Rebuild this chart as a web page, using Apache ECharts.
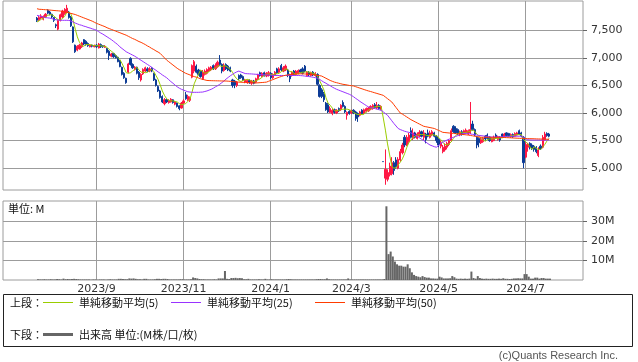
<!DOCTYPE html>
<html><head><meta charset="utf-8">
<script src="https://cdn.jsdelivr.net/npm/echarts@6/dist/echarts.min.js"></script>
<style>html,body{margin:0;padding:0;background:#fff}#c{width:638px;height:362px}</style>
</head><body><div id="c"></div>
<script>
// Trading days (Tokyo) shown on the category axis
const tradingDays = [
  ["2023/06",[29,30]],
  ["2023/07",[3,4,5,6,7,10,11,12,13,14,18,19,20,21,24,25,26,27,28,31]],
  ["2023/08",[1,2,3,4,7,8,9,10,14,15,16,17,18,21,22,23,24,25,28,29,30,31]],
  ["2023/09",[1,4,5,6,7,8,11,12,13,14,15,19,20,21,22,25,26,27,28,29]],
  ["2023/10",[2,3,4,5,6,10,11,12,13,16,17,18,19,20,23,24,25,26,27,30,31]],
  ["2023/11",[1,2,6,7,8,9,10,13,14,15,16,17,20,21,22,24,27,28,29,30]],
  ["2023/12",[1,4,5,6,7,8,11,12,13,14,15,18,19,20,21,22,25,26,27,28,29]],
  ["2024/01",[4,5,9,10,11,12,15,16,17,18,19,22,23,24,25,26,29,30,31]],
  ["2024/02",[1,2,5,6,7,8,9,13,14,15,16,19,20,21,22,26,27,28,29]],
  ["2024/03",[1,4,5,6,7,8,11,12,13,14,15,18,19,21,22,25,26,27,28,29]],
  ["2024/04",[1,2,3,4,5,8,9,10,11,12,15,16,17,18,19,22,23,24,25,26,30]],
  ["2024/05",[1,2,7,8,9,10,13,14,15,16,17,20,21,22,23,24,27,28,29,30,31]],
  ["2024/06",[3,4,5,6,7,10,11,12,13,14,17,18,19,20,21,24,25,26,27,28]],
  ["2024/07",[1,2,3,4,5,8,9,10,11,12,16,17,18,19,22,23,24,25,26,29,30,31]],
  ["2024/08",[1,2,5,6,7,8]]
];
const firstDataDate = "2023/07/24";

// Daily candles: [open, close, low, high]
const candles = [
[7720,7680,7650,7740],[7690,7730,7670,7760],[7720,7760,7700,7790],[7700,7750,7680,7770],[7740,7790,7720,7810],
[7860,7810,7790,7880],[7830,7790,7770,7850],[7790,7740,7720,7800],[7730,7680,7650,7740],[7600,7580,7540,7620],
[7520,7680,7500,7700],[7680,7780,7660,7800],[7740,7850,7720,7870],[7800,7880,7780,7900],[7830,7900,7810,7960],
[7830,7730,7710,7850],[7740,7580,7560,7760],[7560,7290,7270,7570],[7230,7110,7090,7240],[7140,7210,7120,7230],
[7160,7230,7150,7250],[7200,7270,7180,7290],[7330,7250,7230,7340],[7300,7240,7220,7320],[7260,7220,7200,7280],
[7200,7230,7190,7250],[7230,7210,7190,7240],[7200,7220,7190,7240],[7230,7200,7180,7250],[7180,7250,7170,7270],
[7240,7200,7180,7260],[7220,7200,7180,7230],[7190,7210,7180,7230],[7170,7100,7080,7180],[7120,7040,6960,7140],
[7030,7070,7010,7090],[7080,7020,7000,7090],[7040,7000,6990,7060],[7010,6930,6920,7020],[6950,6840,6830,6960],
[6830,6700,6680,6840],[6720,6640,6620,6740],[6630,6550,6530,6640],[6740,6890,6720,6910],[6990,6880,6860,7010],
[6880,6820,6800,6900],[6790,6830,6770,6850],[6830,6720,6700,6840],[6740,6640,6600,6760],[6600,6700,6570,6720],
[6710,6790,6690,6810],[6760,6820,6740,6840],[6800,6760,6740,6830],[6760,6800,6740,6830],[6810,6760,6740,6830],
[6720,6600,6580,6730],[6600,6500,6480,6620],[6480,6400,6380,6500],[6400,6280,6260,6420],[6300,6200,6180,6320],
[6170,6240,6140,6270],[6240,6200,6180,6260],[6190,6230,6170,6250],[6200,6250,6190,6270],[6240,6190,6170,6250],
[6160,6200,6140,6220],[6180,6120,6100,6190],[6130,6080,6050,6140],[6090,6180,6080,6200],[6180,6220,6160,6250],
[6330,6260,6240,6380],[6240,6300,6220,6330],[6230,6280,6200,6300],[6650,6860,6630,6880],[6760,6930,6720,6960],
[6850,6740,6720,6880],[6780,6700,6680,6800],[6760,6660,6640,6780],[6620,6740,6600,6780],[6700,6760,6680,6790],
[6720,6790,6700,6810],[6760,6820,6740,6840],[6780,6830,6760,6850],[6860,6800,6780,6880],[6800,6860,6780,6900],
[6840,6920,6820,6950],[6960,6880,6850,7050],[6880,6760,6720,6900],[6770,6870,6750,6900],[6880,6800,6780,6900],
[6850,6780,6760,6870],[6820,6760,6740,6840],[6600,6500,6460,6620],[6580,6510,6450,6600],[6500,6560,6470,6580],
[6680,6620,6600,6700],[6690,6640,6620,6710],[6660,6600,6580,6680],[6560,6600,6540,6620],[6550,6590,6530,6610],
[6590,6550,6530,6610],[6540,6580,6510,6600],[6580,6540,6520,6600],[6560,6620,6540,6640],[6620,6690,6600,6710],
[6730,6680,6660,6750],[6660,6720,6650,6740],[6730,6680,6660,6750],[6670,6720,6650,6740],[6680,6730,6660,6760],
[6720,6640,6610,6740],[6640,6700,6620,6720],[6690,6740,6680,6760],[6800,6730,6710,6820],[6740,6800,6720,6830],
[6860,6780,6760,6890],[6760,6820,6740,6850],[6780,6850,6760,6880],[6780,6700,6650,6800],[6700,6620,6560,6710],
[6680,6740,6660,6760],[6760,6700,6680,6780],[6700,6760,6680,6780],[6720,6770,6700,6790],[6780,6740,6720,6800],
[6800,6720,6700,6830],[6850,6760,6740,6870],[6680,6740,6660,6760],[6740,6690,6670,6760],[6680,6730,6660,6750],
[6740,6690,6670,6760],[6680,6720,6660,6740],[6700,6520,6500,6720],[6500,6300,6280,6520],[6420,6300,6270,6450],
[6350,6240,6200,6380],[6180,6060,6040,6200],[6150,6020,6000,6180],[6010,6080,6000,6120],[5990,6050,5960,6080],
[6060,6010,5990,6080],[6000,6050,5980,6070],[6080,6040,6020,6100],[6060,6140,6040,6160],[6190,6120,6100,6230],
[6120,6020,6000,6140],[5960,6010,5880,6030],[6030,5990,5970,6050],[6000,6040,5980,6060],[6050,6000,5980,6070],
[6020,5900,5860,6040],[5990,5930,5840,6010],[5960,6020,5940,6040],[6050,5990,5970,6070],[6000,6060,5980,6080],
[6030,6080,6010,6100],[6040,6090,6020,6110],[6070,6120,6050,6140],[6080,6140,6060,6160],[6150,6100,6080,6180],
[6090,6140,6070,6200],[6140,6080,6060,6160],[6070,6120,6050,6140],[5120,5120,5120,5120],[4820,4980,4700,5340],
[4800,4920,4760,4980],[4880,5040,4850,5100],[4900,5100,4870,5200],[5100,4960,4880,5130],[5150,5020,4990,5200],
[5000,5160,4980,5200],[5150,5300,5120,5350],[5280,5420,5250,5460],[5560,5420,5380,5600],[5420,5560,5400,5600],
[5480,5600,5460,5640],[5680,5560,5540,5740],[5540,5640,5510,5720],[5640,5560,5540,5660],[5540,5620,5520,5650],
[5580,5650,5560,5690],[5660,5580,5560,5680],[5560,5640,5510,5690],[5620,5520,5450,5640],[5640,5580,5560,5700],
[5560,5640,5540,5680],[5600,5660,5580,5690],[5640,5580,5560,5660],[5580,5500,5460,5600],[5520,5420,5380,5540],
[5400,5460,5360,5500],[5300,5380,5270,5420],[5330,5400,5300,5450],[5380,5450,5340,5480],[5430,5500,5400,5530],
[5500,5680,5480,5720],[5760,5660,5640,5780],[5720,5640,5620,5760],[5700,5620,5600,5720],[5600,5660,5580,5680],
[5660,5610,5590,5690],[5620,5680,5600,5700],[5640,5690,5620,5720],[5620,5680,5600,5700],[5640,5700,5620,6200],
[5800,5700,5680,5860],[5700,5600,5580,5720],[5560,5420,5360,5580],[5540,5460,5380,5560],[5460,5520,5440,5550],
[5480,5540,5460,5560],[5580,5530,5500,5600],[5600,5540,5520,5630],[5560,5500,5480,5580],[5480,5540,5470,5560],
[5500,5560,5490,5590],[5600,5550,5530,5630],[5520,5570,5500,5590],[5560,5510,5480,5580],[5620,5570,5550,5630],
[5570,5620,5560,5640],[5640,5590,5570,5650],[5630,5580,5560,5640],[5570,5610,5550,5630],[5610,5570,5550,5630],
[5580,5630,5570,5650],[5600,5640,5590,5660],[5680,5620,5600,5700],[5640,5590,5560,5660],[5560,5100,5000,5580],
[5200,5430,5180,5470],[5380,5440,5300,5460],[5450,5370,5340,5470],[5420,5360,5330,5450],[5400,5340,5300,5420],
[5380,5300,5270,5400],[5230,5330,5200,5380],[5400,5350,5330,5430],[5380,5560,5360,5600],[5520,5620,5500,5660],
[5630,5590,5570,5650],[5620,5580,5560,5640]
];

// Volume, millions
const volumeM = [
0.4,0.3,0.3,0.4,0.3,0.3,0.4,0.3,0.3,0.5,
0.4,0.3,0.7,0.4,0.5,0.4,0.5,0.6,0.5,0.4,
0.3,0.3,0.3,0.3,0.3,0.2,0.3,0.3,0.2,0.3,
0.3,0.3,0.2,0.3,0.4,0.3,0.3,0.3,0.6,0.6,
0.5,0.4,0.4,0.8,0.7,0.8,0.6,0.4,0.4,0.3,
0.6,0.6,0.3,0.3,0.3,0.4,0.6,0.6,0.5,0.6,
0.6,0.5,0.3,0.3,0.3,0.3,0.3,0.4,0.4,0.3,
0.3,0.3,0.4,1.3,1.0,0.8,0.5,0.4,0.4,0.3,
0.3,0.3,0.3,0.4,0.3,0.8,0.8,0.8,4.6,0.6,
0.5,1.0,1.0,1.1,0.9,1.0,0.9,0.4,0.4,0.6,
0.3,0.3,0.3,0.3,0.4,0.3,0.3,0.6,0.3,0.3,
0.4,0.3,0.3,0.3,0.3,0.3,0.3,0.4,0.5,0.4,
0.3,0.3,0.3,0.3,0.3,0.3,0.3,0.3,0.3,0.3,
0.3,0.4,0.5,0.5,0.4,0.4,0.8,0.4,0.3,0.3,
0.3,0.3,0.3,0.3,0.3,0.3,0.8,0.3,0.3,0.3,
0.3,0.3,0.3,0.3,0.3,0.3,0.3,0.3,0.3,0.3,
0.3,0.3,0.3,0.5,37.6,13.2,14.5,12.0,9.4,8.0,
7.3,7.3,6.8,6.8,8.0,6.0,3.9,2.6,2.0,1.7,
1.4,2.0,1.5,1.2,1.2,0.8,0.8,0.7,0.7,1.7,
1.3,0.8,0.8,0.8,0.9,2.0,1.4,0.7,0.6,0.7,
0.6,0.7,0.6,0.7,4.3,1.0,0.7,2.0,1.0,0.7,
0.6,0.7,0.6,0.6,0.7,0.6,0.6,0.7,0.6,0.9,
0.6,0.6,0.5,0.6,0.8,0.8,0.9,0.8,0.8,3.0,
3.0,1.7,0.7,0.7,1.2,1.2,0.7,1.0,1.0,0.7,
0.7,0.7
];

// Moving averages
const ma5 = [
7650,7670,7700,7720,7740,7770,7780,7780,7760,7720,7690,7690,7710,7750,7820,7830,7790,7680,7520,7380,
7280,7220,7210,7240,7240,7240,7230,7220,7220,7220,7220,7210,7210,7190,7150,7120,7090,7050,7010,6970,
6900,6820,6730,6720,6730,6760,6790,6830,6780,6740,6740,6730,6740,6770,6790,6750,6680,6610,6510,6400,
6320,6260,6230,6220,6220,6210,6200,6170,6150,6160,6170,6210,6250,6380,6530,6620,6700,6780,6750,6720,
6730,6750,6790,6800,6820,6850,6860,6840,6860,6850,6820,6790,6740,6670,6620,6590,6570,6590,6600,6610,
6600,6580,6570,6580,6600,6620,6650,6680,6700,6710,6700,6690,6710,6710,6720,6750,6770,6800,6790,6750,
6750,6720,6700,6720,6730,
6740,6740,6750,6740,6730,6720,6710,6670,6590,6510,6420,6280,6180,6140,6090,6040,6040,6050,6060,6070,
6070,6070,6060,6040,6010,5990,5970,5980,5970,5980,6020,6050,6070,6100,6110,6120,6120,6120,5910,5690,
5440,5240,5030,5000,5010,5060,5110,5170,5260,5370,5460,5510,5560,5580,5600,5610,5610,5610,5600,5590,
5590,5610,5600,5590,5560,5520,5470,5430,5420,5440,5480,5540,5590,5620,5650,5640,5640,5650,5660,5670,
5690,5670,5620,5580,5540,5510,5490,5520,5530,5530,5530,5540,5540,5550,5550,5560,5570,5570,5590,5590,
5600,5610,5610,5610,5520,5480,5440,5390,5340,5390,5360,5340,5340,5380,5430,5490,5540
];
const ma25 = [
7770,7760,7750,7740,7730,7725,7720,7710,7700,7690,7685,7680,7680,7680,7680,7680,7665,7650,7630,7615,
7600,7590,7575,7565,7550,7540,7525,7515,7500,7475,7450,7430,7405,7380,7355,7330,7300,7270,7240,7200,
7170,7140,7110,7090,7070,7050,7030,7005,6980,6955,6930,6905,6880,6855,6830,6800,6775,6745,6720,6690,
6665,6640,6605,6570,6540,6505,6475,6450,6430,6415,6400,6385,6380,6375,6375,6375,6375,6378,6380,6390,
6400,6415,6430,6450,6475,6495,6520,6550,6580,6615,6645,6675,6700,6725,6745,6760,6745,6730,6715,6712,
6710,6708,6705,6702,6700,6698,6695,6693,6690,6688,6685,6683,6680,6680,6680,6680,6680,6680,6680,6680,
6680,6680,6680,6680,6678,
6675,6670,6665,6660,6655,6648,6640,6630,6610,6585,6560,6540,6515,6495,6470,6450,6430,6415,6400,6385,
6370,6355,6340,6320,6295,6265,6240,6210,6185,6160,6135,6110,6100,6090,6080,6070,6060,6050,6020,5990,
5960,5910,5860,5810,5765,5720,5700,5685,5670,5660,5650,5640,5620,5600,5575,5550,5525,5500,5475,5445,
5420,5405,5390,5380,5410,5450,5470,5490,5510,5525,5545,5560,5575,5590,5605,5620,5630,5630,5625,5620,
5615,5608,5600,5595,5590,5585,5580,5575,5570,5565,5565,5565,5565,5568,5570,5572,5575,5577,5578,5580,
5580,5580,5580,5580,5560,5535,5515,5512,5510,5510,5510,5510,5510,5510,5510,5510,5510
];
const ma50 = [
7890,7880,7878,7875,7872,7870,7866,7862,7858,7855,7852,7848,7840,7832,7825,7815,7805,7795,7785,7770,
7755,7740,7725,7710,7695,7680,7665,7645,7625,7610,7595,7580,7565,7545,7530,7515,7500,7485,7470,7455,
7440,7425,7410,7390,7370,7350,7335,7315,7295,7280,7260,7240,7215,7195,7170,7150,7125,7105,7080,7040,
7000,6960,6930,6900,6870,6840,6810,6785,6765,6740,6720,6705,6690,6675,6660,6650,6635,6620,6610,6600,
6590,6588,6586,6585,6584,6583,6582,6581,6580,6580,6577,6574,6570,6566,6563,6560,6558,6556,6554,6552,
6550,6548,6546,6545,6547,6550,6553,6556,6560,6575,6590,6605,6620,6635,6650,6662,6675,6685,6690,6695,
6700,6704,6707,6710,6710,
6710,6708,6705,6702,6700,6695,6690,6683,6677,6670,6650,6630,6610,6590,6575,6560,6550,6540,6530,6520,
6515,6508,6500,6495,6490,6477,6464,6451,6438,6425,6412,6400,6390,6378,6366,6355,6343,6332,6320,6290,
6260,6230,6200,6150,6100,6050,6000,5980,5955,5930,5905,5880,5860,5840,5820,5800,5780,5760,5752,5744,
5736,5728,5720,5703,5686,5668,5650,5646,5642,5638,5634,5630,5626,5622,5618,5613,5609,5604,5600,5593,
5587,5580,5573,5567,5560,5560,5560,5560,5560,5560,5560,5560,5560,5560,5558,5556,5554,5552,5550,5548,
5546,5544,5542,5540,5538,5537,5536,5535,5534,5533,5531,5530,5529,5527,5526,5525,5524
];

const priceTicks = [5000,5500,6000,6500,7000,7500];
const volumeTicks = [10,20,30];
const monthTickDates = ["2023/09/01","2023/11/01","2024/01/04","2024/03/01","2024/05/01","2024/07/01"];
const monthTickLabels = ["2023/9","2023/11","2024/1","2024/3","2024/5","2024/7"];

// ---- build ----
const dates = [];
tradingDays.forEach(([ym, days]) => days.forEach(d => dates.push(ym + "/" + String(d).padStart(2, "0"))));
const start = dates.indexOf(firstDataDate);
function pad(arr, empty) {
  const out = dates.map(() => empty);
  arr.forEach((v, k) => { out[start + k] = v; });
  return out;
}
const tickIdx = new Set(monthTickDates.map(d => dates.indexOf(d)));
const isTick = (i) => tickIdx.has(i);

const NUM = '"DejaVu Sans", Verdana, sans-serif';
const CJK = '"Noto Sans CJK JP", sans-serif';
const GRID = '#9c9c9c';

const names = ['単純移動平均(5)', '単純移動平均(25)', '単純移動平均(50)', '出来高 単位:(M株/口/枚)'];
function legendAt(name, left, top, h) {
  return { data: [name], left: left, top: top, orient: 'horizontal', padding: 0, itemGap: 0,
    itemWidth: 30, itemHeight: h, icon: 'rect', selectedMode: false,
    textStyle: { fontFamily: CJK, fontSize: 11, color: '#111', padding: [0, 0, 0, 1] } };
}

const chart = echarts.init(document.getElementById('c'));
chart.setOption({
  animation: false,
  backgroundColor: '#fff',
  grid: [
    { left: 3, width: 580, top: 1, height: 189, show: true, borderColor: GRID, borderWidth: 1 },
    { left: 3, width: 580, top: 201, height: 79, show: true, borderColor: GRID, borderWidth: 1 }
  ],
  xAxis: [
    { type: 'category', gridIndex: 0, data: dates, boundaryGap: false,
      axisLine: { show: false }, axisTick: { show: false },
      axisLabel: { show: false, interval: isTick },
      splitLine: { show: true, interval: isTick, lineStyle: { color: GRID, width: 1 } } },
    { type: 'category', gridIndex: 1, data: dates, boundaryGap: false,
      axisLine: { show: false }, axisTick: { show: false },
      axisLabel: { show: true, interval: isTick, margin: 4, fontFamily: NUM, fontSize: 11, color: '#333',
        formatter: (v) => monthTickLabels[monthTickDates.indexOf(v)] || '' },
      splitLine: { show: true, interval: isTick, lineStyle: { color: GRID, width: 1 } } }
  ],
  yAxis: [
    { type: 'value', gridIndex: 0, position: 'right', min: 4605, max: 8030,
      axisLine: { show: false },
      axisTick: { show: true, length: 4, customValues: priceTicks, lineStyle: { color: '#666' } },
      axisLabel: { customValues: priceTicks, margin: 8, fontFamily: NUM, fontSize: 11, color: '#333',
        formatter: (v) => Number(v).toLocaleString('en-US') },
      splitLine: { show: true, lineStyle: { color: GRID, width: 1 } } },
    { type: 'value', gridIndex: 1, position: 'right', min: 0, max: 40.3,
      axisLine: { show: false },
      axisTick: { show: true, length: 4, customValues: volumeTicks, lineStyle: { color: '#666' } },
      axisLabel: { customValues: volumeTicks, margin: 8, fontFamily: NUM, fontSize: 11, color: '#333',
        formatter: (v) => v + 'M' },
      splitLine: { show: true, lineStyle: { color: GRID, width: 1 } } }
  ],
  legend: [
    legendAt(names[0], 43, 297, 1),
    legendAt(names[1], 171, 297, 1),
    legendAt(names[2], 315, 297, 1),
    legendAt(names[3], 43, 329, 3)
  ],
  graphic: [
    { type: 'rect', shape: { x: 3.5, y: 294.5, width: 629, height: 52 }, style: { fill: 'none', stroke: '#222', lineWidth: 1 }, silent: true },
    { type: 'text', left: 10, top: 297, style: { text: '上段：', font: '11px "Noto Sans CJK JP"', fill: '#111' } },
    { type: 'text', left: 10, top: 329, style: { text: '下段：', font: '11px "Noto Sans CJK JP"', fill: '#111' } },
    { type: 'text', left: 8, top: 203, style: { text: '単位: M', font: '11px "Noto Sans CJK JP"', fill: '#111' } },
    { type: 'text', right: 20, top: 350, style: { text: '(c)Quants Research Inc.', font: '11px "Liberation Sans"', fill: '#555' } }
  ],
  series: [
    { type: 'candlestick', name: 'price', xAxisIndex: 0, yAxisIndex: 0, barWidth: 1.7,
      data: pad(candles, ['-', '-', '-', '-']),
      itemStyle: { color: '#ff1744', color0: '#0d3c96', borderColor: '#ff1744', borderColor0: '#0d3c96', borderWidth: 1 } },
    { type: 'line', name: names[0], xAxisIndex: 0, yAxisIndex: 0, data: pad(ma5, '-'), color: '#9acd00',
      symbol: 'none', lineStyle: { width: 1, color: '#9acd00' } },
    { type: 'line', name: names[1], xAxisIndex: 0, yAxisIndex: 0, data: pad(ma25, '-'), color: '#9933ff',
      symbol: 'none', lineStyle: { width: 1, color: '#9933ff' } },
    { type: 'line', name: names[2], xAxisIndex: 0, yAxisIndex: 0, data: pad(ma50, '-'), color: '#ff3c00',
      symbol: 'none', lineStyle: { width: 1, color: '#ff3c00' } },
    { type: 'bar', name: 'spacer', xAxisIndex: 1, yAxisIndex: 1, data: dates.map(() => '-'),
      barWidth: 2, barGap: '0%', itemStyle: { color: 'rgba(0,0,0,0)' } },
    { type: 'bar', name: names[3], xAxisIndex: 1, yAxisIndex: 1, data: pad(volumeM, '-'), color: '#666',
      barWidth: 2, barGap: '0%', itemStyle: { color: '#666' } }
  ]
});
</script>
</body></html>
